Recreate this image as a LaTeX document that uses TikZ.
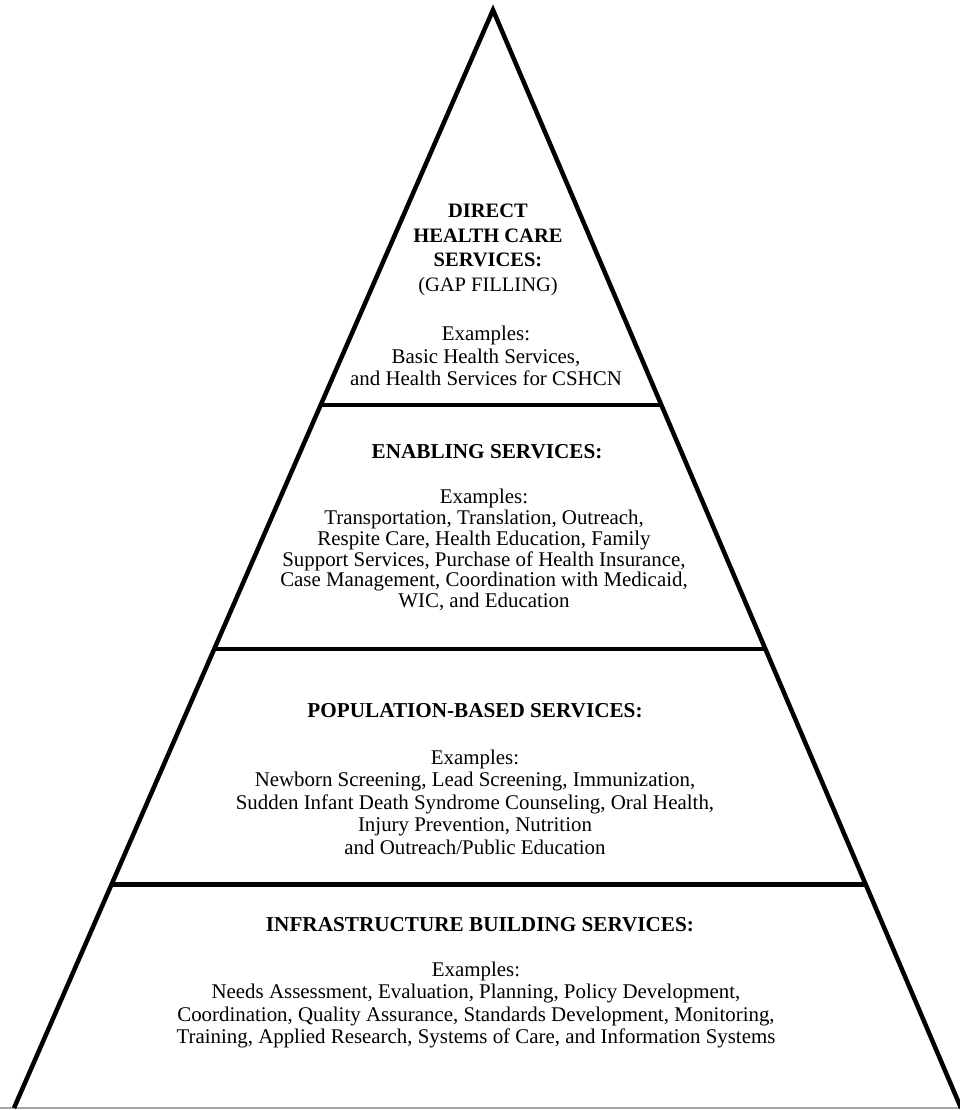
\documentclass[tikz,border=0pt]{standalone}
\usepackage{fontspec}
\setmainfont{Liberation Serif}
\usetikzlibrary{calc}
\begin{document}
\begin{tikzpicture}[x=1pt,y=-1pt,
  edge/.style={line width=4.5pt, line join=miter},
  band/.style={line width=3.5pt},
  bandthick/.style={line width=5pt},
  baseline/.style={line width=2pt, draw=black!35},
  head/.style={font=\fontsize{21.2}{24.7}\selectfont\bfseries, align=center, inner sep=0pt},
  body/.style={font=\fontsize{20.9}{22.5}\selectfont, align=center, inner sep=0pt}]
\useasboundingbox (0,0) rectangle (960,1110);
\fill[white] (0,0) rectangle (960,1110);
% pyramid
\coordinate (apex) at (493,10);
\coordinate (bl) at (14,1108);
\coordinate (br) at (961,1108);
\coordinate (l1) at ($(apex)!0.3597!(bl)$);
\coordinate (r1) at ($(apex)!0.3597!(br)$);
\coordinate (l2) at ($(apex)!0.5820!(bl)$);
\coordinate (r2) at ($(apex)!0.5820!(br)$);
\coordinate (l3) at ($(apex)!0.7960!(bl)$);
\coordinate (r3) at ($(apex)!0.7960!(br)$);
\coordinate (basel) at (0,1108);
\coordinate (baser) at (960,1108);
\draw[baseline] (basel) -- (baser);
\draw[edge] (bl) -- (apex) -- (br);
\draw[band] (l1) -- (r1);
\draw[band] (l2) -- (r2);
\draw[bandthick] (l3) -- (r3);
% top tier
\node[head, font=\fontsize{20.5}{24.7}\selectfont\bfseries] (dhh) at (488,250) {DIRECT\\HEALTH CARE\\SERVICES:\\\mdseries (GAP FILLING)};
\node[body] (dhx) at (486,356) {Examples:\\Basic Health Services,\\and Health Services for CSHCN};
% enabling
\node[head] (enh) at (487,452) {ENABLING SERVICES:};
\node[body, font=\fontsize{20.9}{20.8}\selectfont] (enx) at (484,550) {Examples:\\Transportation, Translation, Outreach,\\Respite Care, Health Education, Family\\Support Services, Purchase of Health Insurance,\\Case Management, Coordination with Medicaid,\\WIC, and Education};
% population
\node[head] (poh) at (475,711) {POPULATION-BASED SERVICES:};
\node[body] (pox) at (475,802) {Examples:\\Newborn Screening, Lead Screening, Immunization,\\Sudden Infant Death Syndrome Counseling, Oral Health,\\Injury Prevention, Nutrition\\and Outreach/Public Education};
% infrastructure
\node[head] (inh) at (480,925) {INFRASTRUCTURE BUILDING SERVICES:};
\node[body] (inx) at (476,1005) {Examples:\\Needs Assessment, Evaluation, Planning, Policy Development,\\Coordination, Quality Assurance, Standards Development, Monitoring,\\Training, Applied Research, Systems of Care, and Information Systems};
\end{tikzpicture}
\end{document}
